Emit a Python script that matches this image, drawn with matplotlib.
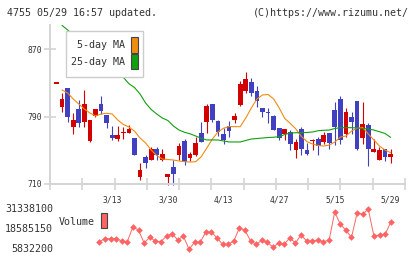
import numpy as np
import matplotlib
matplotlib.use("Agg")
import matplotlib.pyplot as plt
from matplotlib.patches import Rectangle

# daily prices, 61 trading days (index 0..60)
opens = [829, 801, 824, 778, 799, 784, 761, 791, 805, 792,
         768, 763, 770, 771, 765, 718, 742, 739, 752, 739,
         718, 730, 744, 761, 741, 744, 770, 784, 805, 785,
         769, 779, 786, 804, 820, 831, 821, 800, 796, 791,
         777, 769, 772, 750, 775, 750, 761, 764, 760, 771,
         798, 811, 769, 789, 809, 765, 780, 748, 739, 752, 742]
highs = [829, 818, 824, 794, 810, 822, 786, 799, 814, 792,
         779, 779, 778, 780, 765, 735, 745, 754, 754, 752,
         722, 739, 759, 764, 748, 766, 784, 805, 805, 786,
         776, 785, 794, 832, 843, 836, 826, 800, 800, 792,
         777, 775, 774, 764, 778, 759, 764, 766, 772, 771,
         807, 815, 800, 796, 809, 807, 783, 763, 754, 752, 752]
lows = [829, 795, 784, 769, 778, 778, 760, 789, 793, 776,
        762, 761, 764, 771, 745, 715, 729, 739, 738, 737,
        709, 709, 739, 732, 737, 743, 760, 771, 784, 767,
        758, 766, 782, 803, 818, 815, 802, 789, 783, 774,
        762, 762, 750, 741, 744, 744, 750, 744, 757, 752,
        756, 758, 766, 769, 750, 758, 731, 748, 738, 737, 735]
closes = [829, 811, 789, 786, 783, 805, 786, 799, 797, 783,
          765, 768, 772, 775, 745, 727, 735, 752, 744, 746,
          722, 722, 755, 736, 746, 759, 760, 803, 786, 772,
          762, 773, 791, 829, 835, 818, 808, 795, 794, 774,
          765, 775, 758, 760, 751, 746, 762, 755, 768, 759,
          778, 762, 796, 784, 752, 781, 752, 751, 750, 742, 746]

nan = np.nan
ma5 = [nan, 821.6, 818.1, 811.0, 805.0, 799.1, 794.3, 790.8, 793.1, 794.0,
       793.1, 786.0, 780.7, 777.7, 772.9, 764.6, 758.7, 750.4, 743.8, 739.7,
       739.1, 738.5, 737.3, 736.5, 736.1, 736.5, 742.4, 752.8, 763.4, 771.8,
       776.2, 778.3, 778.1, 778.1, 788.4, 800.3, 811.0, 815.7, 816.3, 811.0,
       800.3, 787.8, 781.9, 775.3, 766.4, 760.2, 757.5, 755.7, 755.1, 756.3,
       759.9, 765.8, 767.0, 772.9, 776.2, 777.1, 769.4, 762.3, 755.1, 750.4, 747.2]
ma25 = [nan, 898.3, 892.9, 887.0, 881.0, 875.1, 869.2, 863.2, 857.3, 852.5,
        846.6, 841.8, 836.7, 829.1, 824.6, 816.9, 806.2, 798.5, 793.1, 788.4,
        785.4, 778.9, 774.1, 771.4, 769.6, 767.0, 764.3, 762.3, 762.3, 762.3,
        761.1, 759.9, 759.9, 759.9, 761.7, 763.4, 764.0, 764.6, 765.2, 765.5,
        766.2, 768.8, 770.6, 770.9, 770.9, 771.2, 771.8, 773.3, 773.8, 774.1,
        775.9, 776.9, 776.9, 776.9, 776.5, 775.9, 775.3, 774.1, 772.1, 770.0, 765.5]

# volume for the last 53 days (index 8..60)
vol_start = 8
volume = [10720000, 12640000, 12640000, 12640000, 11120000, 10720000, 20290000,
          17950000, 9870000, 13480000, 11120000, 10720000, 14330000, 15820000,
          11780000, 14330000, 5832200, 10300000, 10300000, 16880000, 16880000,
          13060000, 9020000, 9020000, 11120000, 19430000, 17950000, 11120000,
          9020000, 11570000, 10300000, 7110000, 9870000, 9230000, 13060000,
          9870000, 14970000, 11120000, 11120000, 11570000, 10720000, 11570000,
          29430000, 21980000, 17950000, 13480000, 28790000, 28360000, 31338100,
          14330000, 14970000, 15400000, 23050000]

date_idx = [10, 20, 30, 40, 50, 60]
date_labels = ["3/13", "3/30", "4/13", "4/27", "5/15", "5/29"]
price_ticks = [710, 790, 870]

RED = "#d40000"
BLUE = "#4040c0"
ORANGE = "#f08c10"
GREEN = "#10a010"
VOLC = "#ff6464"
GRID = "#d4d4d4"
TXT = "#333333"

W, H = 420, 259


def fx(px):
    return px / W


def fy(py):
    return 1 - py / H


plt.rcParams["font.family"] = "DejaVu Sans Mono"
fig = plt.figure(figsize=(4.2, 2.59), dpi=100)

# --- price panel ---
ax = fig.add_axes([fx(50), fy(184), (405 - 50) / W, (184 - 25) / H])
x = np.arange(len(opens))
o = np.array(opens, dtype=float)
c = np.array(closes, dtype=float)
colors = np.where(c >= o, RED, BLUE)
ax.vlines(x, lows, highs, colors=colors, lw=0.8, zorder=2, clip_on=False)
ax.bar(x, np.maximum(np.abs(c - o), 1.6), bottom=np.minimum(o, c), width=0.85,
       color=colors, lw=0, zorder=2)
ax.plot(x, ma5, color=ORANGE, lw=0.8, zorder=3)
ax.plot(x, ma25, color=GREEN, lw=0.8, zorder=3)

xlim = (-1.17, 62.6)
ax.set_xlim(*xlim)
ax.set_ylim(710, 898.8)
for s in ["top", "right"]:
    ax.spines[s].set_visible(False)
for s in ["left", "bottom"]:
    ax.spines[s].set_color(GRID)
    ax.spines[s].set_linewidth(1.4)

ax.set_yticks(price_ticks)
ax.set_yticklabels([str(t) for t in price_ticks])
ax.tick_params(axis="y", direction="inout", length=8, width=1.2, color=GRID,
               labelsize=5.8, labelcolor=TXT, pad=2)
ax.set_xticks(np.linspace(xlim[0], xlim[1], 12))
ax.set_xticklabels([])
ax.tick_params(axis="x", which="major", direction="inout", length=8, width=1.2, color=GRID)
ax.set_xticks(date_idx, minor=True)
ax.set_xticklabels(date_labels, minor=True)
ax.tick_params(axis="x", which="minor", length=0, labelsize=5.8, labelcolor=TXT, pad=8)

# legend box
fig.add_artist(Rectangle((fx(66), fy(77.3)), (143 - 66) / W, (77.3 - 30.7) / H,
                         transform=fig.transFigure, facecolor="white",
                         edgecolor="#cccccc", lw=1, zorder=5))
fig.text(fx(125), fy(45.5), "5-day MA", ha="right", va="center", fontsize=7.2,
         color=TXT, zorder=6)
fig.text(fx(125), fy(62), "25-day MA", ha="right", va="center", fontsize=7.2,
         color=TXT, zorder=6)
for (y0, y1), col in [((37.3, 52.7), ORANGE), ((54, 69.3), GREEN)]:
    fig.add_artist(Rectangle((fx(131), fy(y1)), 6.7 / W, (y1 - y0) / H,
                             transform=fig.transFigure, facecolor=col,
                             edgecolor="#444444", lw=0.8, zorder=6))

# --- volume panel ---
ax2 = fig.add_axes([fx(50), fy(249.3), (405 - 50) / W, (249.3 - 209.3) / H])
vx = np.arange(vol_start, vol_start + len(volume))
ax2.plot(vx, volume, color=VOLC, lw=0.7, marker="D", ms=3.4, mew=0, clip_on=False)
vmin, vmax = min(volume), max(volume)
ax2.set_xlim(-0.80, 62.55)
ax2.set_ylim(vmin, vmax)
ax2.axis("off")
for v in [vmin, (vmin + vmax) / 2, vmax]:
    ax2.text(3 / 355, v, str(int(v)), ha="right", va="center", fontsize=7.2,
             color=TXT, transform=ax2.get_yaxis_transform())
fig.text(fx(58.5), fy(222.3), "Volume", ha="left", va="center", fontsize=7.2, color=TXT)
fig.add_artist(Rectangle((fx(101.3), fy(228.3)), 6 / W, 15 / H,
                         transform=fig.transFigure, facecolor=VOLC,
                         edgecolor="#444444", lw=0.8, zorder=6))

# header
fig.text(fx(7), fy(12.5), "4755 05/29 16:57 updated.", ha="left", va="center",
         fontsize=7.2, color=TXT)
fig.text(fx(409), fy(12.5), "(C)https://www.rizumu.net/", ha="right", va="center",
         fontsize=7.2, color=TXT)

fig.savefig("out.png", dpi=100)
plt.close(fig)
